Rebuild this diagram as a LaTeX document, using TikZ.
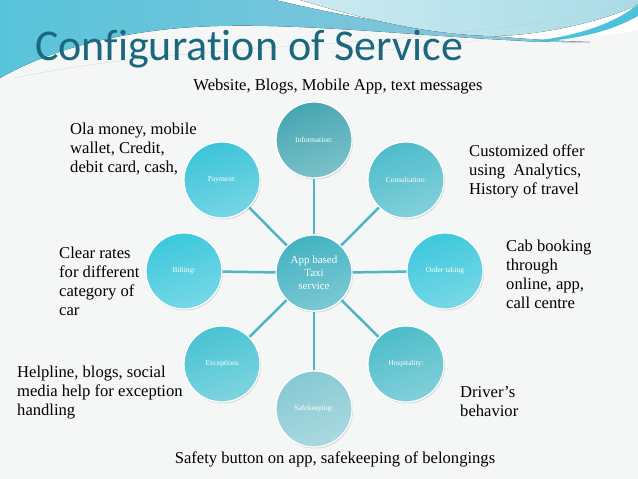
\documentclass[tikz,border=0pt]{standalone}
\usepackage{fontspec}
\setmainfont{Liberation Serif}
\newfontfamily\titlefont[Ligatures=NoCommon]{Carlito}
\usepackage{tikz}
\usetikzlibrary{
  shadows,
  backgrounds
}
\definecolor{cfgTitle}{HTML}{1B687E}
\definecolor{cfgBack}{HTML}{F5F6F6}
\definecolor{cfgLine}{HTML}{4DB5C4}
\definecolor{cfgWaveA}{HTML}{58C4DA}
\definecolor{cfgWaveB}{HTML}{8EC6DC}
\definecolor{cfgWaveC}{HTML}{A9DCE7}
\definecolor{cfgWaveD}{HTML}{4CC2DA}
\definecolor{cfgCtr}{HTML}{43B2C1}
\definecolor{cfgInfo}{HTML}{45A6B2}
\definecolor{cfgCons}{HTML}{4DBCCB}
\definecolor{cfgOrd}{HTML}{3EC8DC}
\definecolor{cfgHosp}{HTML}{4CBCC9}
\definecolor{cfgSafe}{HTML}{86C9D3}
\definecolor{cfgExc}{HTML}{48C2D2}
\definecolor{cfgBill}{HTML}{3CC8DC}
\definecolor{cfgPay}{HTML}{3CC4D9}
\tikzset{
  hub/.style={
    circle, draw=white, line width=1.2pt, minimum size=76pt, inner sep=1pt,
    text=white, align=center, font=\fontsize{7.5}{9}\selectfont,
    drop shadow={shadow xshift=1pt, shadow yshift=-1.5pt, opacity=0.25}
  },
  hubfill/.style={top color=#1, bottom color=#1!70!white, shading angle=20},
  spoke/.style={line width=2.5pt, cfgLine},
  note/.style={font=\fontsize{16.6}{19}\selectfont, align=left, anchor=base west, inner sep=0pt},
  caption/.style={font=\fontsize{16.6}{19}\selectfont, anchor=base, inner sep=0pt},
  titletext/.style={font=\titlefont\fontsize{44}{50}\selectfont, text=cfgTitle, anchor=base west, inner sep=0pt}
}
\begin{document}
\begin{tikzpicture}[x=1pt, y=-1pt]
  \useasboundingbox (0,0) rectangle (638,479);
  \fill[cfgBack] (0,0) rectangle (638,479);
  % waves on top
  \fill[white] (250,0) -- (638,0) -- (638,30) .. controls (500,55) and (350,30) .. (250,0) -- cycle;
  \fill[left color=cfgWaveA, right color=cfgWaveB] (0,0) -- (275,0) .. controls (360,20) and (460,38) .. (590,42)
    .. controls (470,44) and (300,18) .. (180,28) .. controls (100,35) and (40,55) .. (0,78) -- cycle;
  \fill[left color=cfgWaveC!60!white, right color=cfgWaveC] (300,0) -- (638,0) -- (638,5) .. controls (600,22) and (540,36) .. (490,36)
    .. controls (420,34) and (350,15) .. (300,0) -- cycle;
  \fill[cfgWaveD] (520,42) .. controls (580,38) and (620,20) .. (638,4) -- (638,16) .. controls (610,32) and (570,42) .. (520,42) -- cycle;
  \draw[gray!45, very thin] (15,78) .. controls (200,38) and (450,52) .. (638,2);
  \draw[gray!35, very thin] (330,52) .. controls (450,50) and (560,30) .. (638,6);

  \node[titletext] (title) at (35,60) {Configuration of Service};

  % hub and satellites
  \node[hub, hubfill=cfgCtr, font=\fontsize{11}{13}\selectfont] (ctr) at (314,273) {App based\\Taxi\\service};
  \foreach \nm/\x/\y/\col/\txt in {
    info/314/140/cfgInfo/{Information:},
    cons/406/180/cfgCons/{Consultation:},
    ord/445/271/cfgOrd/{Order taking},
    hosp/406/364/cfgHosp/{Hospitality:},
    safe/314/409/cfgSafe/{Safekeeping:},
    exc/222/364/cfgExc/{Exceptions},
    bill/184/271/cfgBill/{Billing:},
    pay/222/180/cfgPay/{Payment:}}{
    \node[hub, hubfill=\col] (\nm) at (\x,\y) {\txt};
    \draw[spoke] (ctr) -- (\nm);
  }

  % notes (base = last line)
  \node[caption] (web) at (338,90) {Website, Blogs, Mobile App, text messages};
  \node[note] (money) at (70,172) {Ola money, mobile\\wallet, Credit,\\debit card, cash,};
  \node[note] (rates) at (59,315) {Clear rates\\for different\\category of\\car};
  \node[note] (offer) at (469,194) {Customized offer\\using~ Analytics,\\History of travel};
  \node[note] (cab) at (506,308) {Cab booking\\through\\online, app,\\call centre};
  \node[note] (help) at (17,415) {Helpline, blogs, social\\media help for exception\\handling};
  \node[note] (driver) at (460,416) {Driver's\\behavior};
  \node[caption] (safety) at (335,463) {Safety button on app, safekeeping of belongings};
\end{tikzpicture}
\end{document}
